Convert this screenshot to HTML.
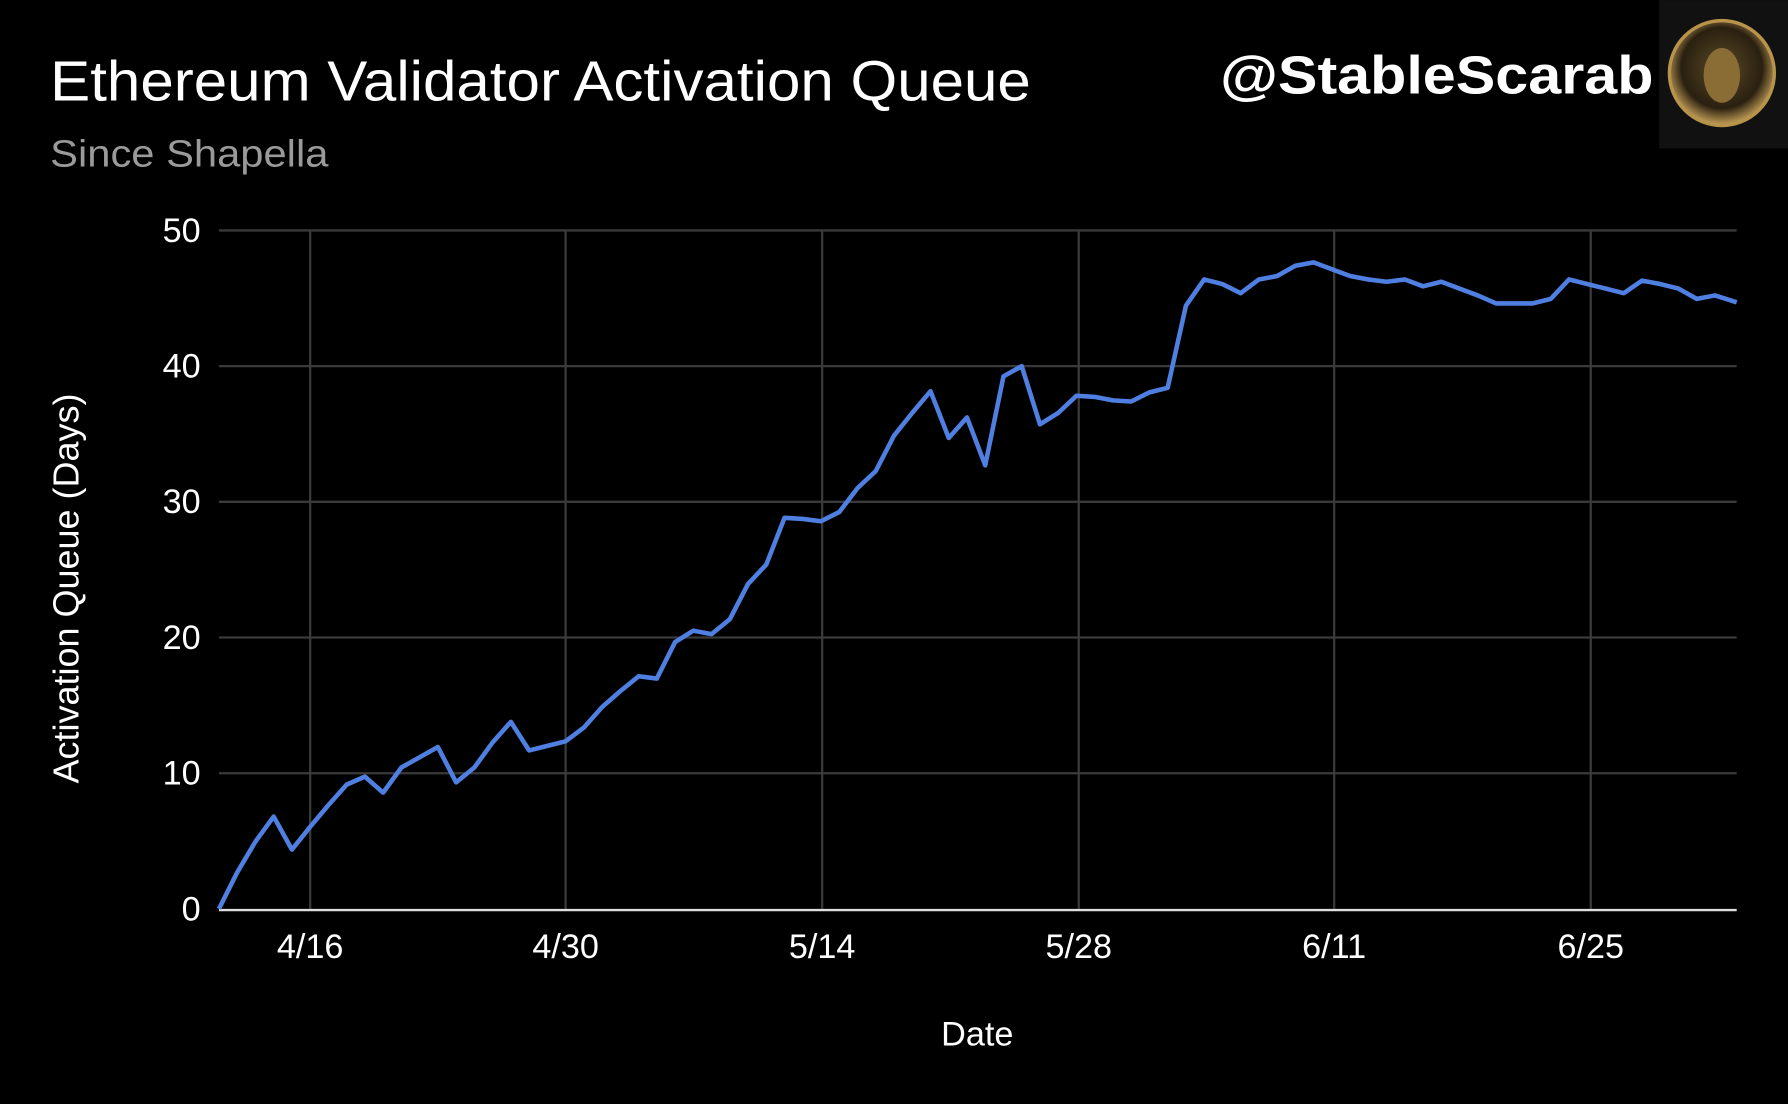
<!DOCTYPE html>
<html><head><meta charset="utf-8"><style>
html,body{margin:0;padding:0;background:#000;}
svg{display:block;}
</style></head><body>
<svg width="1788" height="1104" viewBox="0 0 1568 968" xmlns="http://www.w3.org/2000/svg" font-family="Liberation Sans, sans-serif">
<rect width="1568" height="968" fill="#000"/>
<text x="44" y="88" font-size="50" fill="#fff" textLength="860" lengthAdjust="spacingAndGlyphs">Ethereum Validator Activation Queue</text>
<text x="44" y="146" font-size="33" fill="#9a9a9a" textLength="244" lengthAdjust="spacingAndGlyphs">Since Shapella</text>
<text x="1070" y="82" font-size="47" font-weight="bold" fill="#fff" textLength="380" lengthAdjust="spacingAndGlyphs">@StableScarab</text>
<rect x="1455" y="0" width="113" height="130" fill="#111"/>
<defs><radialGradient id="g" cx="0.5" cy="0.45" r="0.55"><stop offset="0" stop-color="#5a4a28"/><stop offset="0.7" stop-color="#2a2010"/><stop offset="1" stop-color="#c9a45a"/></radialGradient></defs>
<circle cx="1510" cy="64" r="46" fill="url(#g)" stroke="#b8934a" stroke-width="3"/>
<ellipse cx="1510" cy="66" rx="16" ry="24" fill="#8a6d35"/>
<g stroke="#3a3a3a" stroke-width="2">
<line x1="192" y1="202" x2="1523" y2="202"/><line x1="192" y1="321" x2="1523" y2="321"/><line x1="192" y1="440" x2="1523" y2="440"/><line x1="192" y1="559" x2="1523" y2="559"/><line x1="192" y1="678" x2="1523" y2="678"/>
<line x1="272" y1="202" x2="272" y2="797"/><line x1="496" y1="202" x2="496" y2="797"/><line x1="721" y1="202" x2="721" y2="797"/><line x1="946" y1="202" x2="946" y2="797"/><line x1="1170" y1="202" x2="1170" y2="797"/><line x1="1395" y1="202" x2="1395" y2="797"/>
</g>
<line x1="192" y1="798" x2="1523" y2="798" stroke="#ddd" stroke-width="2"/>
<g font-size="30" fill="#fff" text-anchor="end">
<text x="176" y="212">50</text><text x="176" y="331">40</text><text x="176" y="450">30</text><text x="176" y="569">20</text><text x="176" y="688">10</text><text x="176" y="807">0</text>
</g>
<g font-size="30" fill="#fff" text-anchor="middle">
<text x="272" y="840">4/16</text><text x="496" y="840">4/30</text><text x="721" y="840">5/14</text><text x="946" y="840">5/28</text><text x="1170" y="840">6/11</text><text x="1395" y="840">6/25</text>
<text x="857" y="917" font-size="30">Date</text>
</g>
<text transform="translate(69,516) rotate(-90)" font-size="32" fill="#fff" text-anchor="middle" textLength="342" lengthAdjust="spacingAndGlyphs">Activation Queue (Days)</text>
<polyline fill="none" stroke="#4f80e1" stroke-width="4" stroke-linejoin="round" points="192,797 208,765 224,738 240,716 256,745 272,725 288,706 304,688 320,681 336,695 352,673 368,664 384,655 400,686 416,673 432,651 448,633 464,658 480,654 496,650 512,638 528,620 544,606 560,593 576,595 592,563 608,553 624,556 640,543 656,512 672,495 688,454 704,455 720,457 736,449 752,428 768,413 784,382 800,362 816,343 832,384 848,366 864,408 880,330 896,321 912,372 928,362 944,347 960,348 976,351 992,352 1008,344 1024,340 1040,268 1056,245 1072,249 1088,257 1104,245 1120,242 1136,233 1152,230 1168,236 1184,242 1200,245 1216,247 1232,245 1248,251 1264,247 1280,253 1296,259 1312,266 1328,266 1344,266 1360,262 1376,245 1392,249 1408,253 1424,257 1440,246 1456,249 1472,253 1488,262 1504,259 1523,265"/>
</svg>
</body></html>
